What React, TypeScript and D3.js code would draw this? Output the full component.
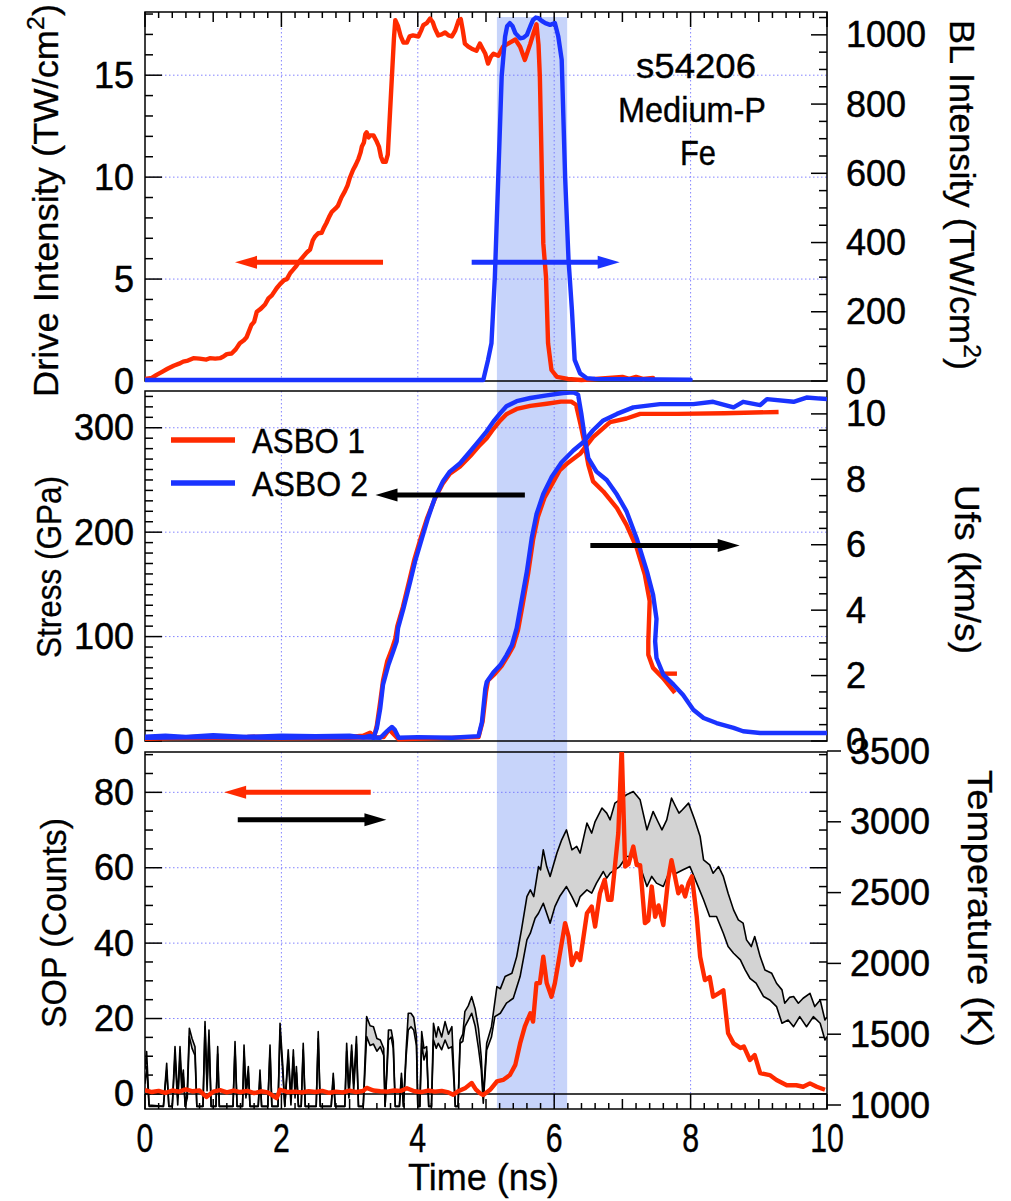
import React from "react";
import * as d3 from "d3";

type Pt = [number, number];

// ------------------------------------------------------------------ DATA
const timeTicks = [0, 2, 4, 6, 8, 10];
const driveTicks = [0, 5, 10, 15];
const blTicks = [0, 200, 400, 600, 800, 1000];
const stressTicks = [0, 100, 200, 300];
const ufsTicks = [0, 2, 4, 6, 8, 10];
const sopTicks = [0, 20, 40, 60, 80];
const tempTicks = [1000, 1500, 2000, 2500, 3000, 3500];

const shotLabel = ["s54206", "Medium-P", "Fe"];
const legendLabels = ["ASBO 1", "ASBO 2"];
const blWindow = [5.16, 6.19]; // ns, backlighter window

// drive laser intensity (TW/cm^2)
const driveIntensity: Pt[] = [
  [0, 0.1], [0.1, 0.15], [0.17, 0.3], [0.25, 0.45], [0.33, 0.6], [0.42, 0.75], [0.5, 0.85], [0.56, 0.95],
  [0.63, 1.0], [0.71, 1.12], [0.8, 1.1], [0.9, 1.05], [0.95, 1.12], [1.03, 1.1], [1.1, 1.12], [1.15, 1.2],
  [1.2, 1.32], [1.27, 1.35], [1.33, 1.55], [1.39, 1.85], [1.45, 2.0], [1.49, 2.15], [1.56, 2.75], [1.6, 2.9],
  [1.64, 3.4], [1.7, 3.55], [1.76, 3.75], [1.81, 4.05], [1.86, 4.2], [1.93, 4.55], [1.98, 4.75], [2.04, 4.95],
  [2.08, 5.0], [2.13, 5.3], [2.17, 5.45], [2.22, 5.65], [2.27, 5.9], [2.32, 6.1], [2.37, 6.3], [2.42, 6.45],
  [2.46, 6.9], [2.49, 7.07], [2.54, 7.25], [2.59, 7.27], [2.62, 7.5], [2.66, 7.75], [2.7, 8.05], [2.74, 8.3],
  [2.79, 8.45], [2.83, 8.6], [2.88, 9.0], [2.93, 9.3], [2.97, 9.6], [3.0, 9.93], [3.05, 10.35], [3.09, 10.6],
  [3.13, 10.9], [3.16, 11.2], [3.18, 11.5], [3.21, 11.7], [3.23, 12.1], [3.25, 12.2], [3.28, 11.95], [3.3, 12.05],
  [3.35, 12.05], [3.39, 11.8], [3.43, 11.5], [3.46, 11.0], [3.49, 10.75], [3.53, 10.75], [3.56, 11.1], [3.59, 13.0],
  [3.62, 14.9], [3.65, 16.8], [3.67, 17.7], [3.71, 17.4], [3.75, 16.9], [3.79, 16.6], [3.84, 16.6], [3.88, 16.9],
  [3.93, 16.95], [4.01, 16.9], [4.05, 17.2], [4.08, 17.45], [4.13, 17.55], [4.18, 17.78], [4.22, 17.6], [4.25, 17.3],
  [4.3, 16.95], [4.35, 17.0], [4.4, 17.1], [4.45, 16.95], [4.5, 16.9], [4.55, 17.2], [4.6, 17.7], [4.63, 17.75],
  [4.66, 17.2], [4.69, 16.55], [4.74, 16.4], [4.79, 16.3], [4.86, 16.2], [4.91, 16.55], [4.95, 16.3], [4.99, 16.05],
  [5.03, 15.57], [5.07, 15.9], [5.11, 16.05], [5.18, 15.95], [5.25, 16.4], [5.35, 16.6], [5.43, 16.75], [5.5, 16.4],
  [5.57, 15.75], [5.65, 16.55], [5.7, 17.1], [5.74, 17.5], [5.77, 16.5], [5.79, 14.9], [5.82, 10.0], [5.84, 6.75],
  [5.88, 5.1], [5.91, 1.85], [5.96, 0.54], [6.04, 0.2], [6.2, 0.1], [6.4, 0.05], [6.6, 0.1], [6.8, 0.15],
  [7.0, 0.2], [7.1, 0.1], [7.2, 0.2], [7.3, 0.1], [7.45, 0.15],
];

// backlighter intensity (TW/cm^2)
const blIntensity: Pt[] = [
  [0, 3], [4.96, 3], [5.03, 61], [5.08, 109], [5.13, 301], [5.18, 590], [5.23, 880], [5.28, 995],
  [5.31, 1025], [5.35, 1034], [5.39, 1025], [5.43, 1005], [5.5, 990], [5.55, 992], [5.6, 1000], [5.65, 1025],
  [5.69, 1043], [5.73, 1050], [5.77, 1048], [5.82, 1040], [5.87, 1034], [5.94, 1029], [6.01, 1034], [6.06, 995],
  [6.11, 928], [6.16, 590], [6.21, 350], [6.26, 205], [6.3, 61], [6.38, 22], [6.48, 8], [6.6, 6], [8.0, 4],
];

// stress (GPa)
const stressAsbo2: Pt[] = [
  [0, 4], [0.3, 5], [0.6, 4], [1.0, 5.5], [1.5, 4], [2.0, 5], [2.5, 4.5], [3.0, 5], [3.2, 3.5], [3.3, 5],
  [3.35, 3], [3.4, 12.5], [3.45, 31.6], [3.49, 54], [3.57, 73], [3.64, 86], [3.69, 95.5], [3.71, 108],
  [3.79, 127], [3.89, 153], [3.96, 172], [4.06, 194], [4.15, 213.6], [4.25, 232.8], [4.37, 248.7], [4.47, 258],
  [4.62, 266], [4.77, 277.5], [4.89, 287], [5.01, 296.6], [5.11, 306], [5.21, 314], [5.3, 320.6], [5.45, 325.4],
  [5.65, 328.5], [5.89, 331], [6.13, 333.3], [6.28, 334], [6.35, 331.7], [6.4, 312.5], [6.45, 290], [6.5, 271],
  [6.62, 258], [6.77, 250], [6.92, 236], [7.06, 220], [7.21, 194], [7.36, 162.5], [7.45, 140], [7.5, 117],
  [7.48, 95.5], [7.5, 79.5], [7.6, 63.5], [7.75, 54], [7.89, 44], [8.04, 30], [8.19, 22], [8.38, 17.2],
  [8.63, 12.5], [8.77, 9.3], [9.02, 7.7], [9.5, 7.7], [10, 7.7],
];
const stressAsbo1: Pt[] = [
  [0, 2], [0.4, 3], [0.8, 4], [1.2, 3], [1.6, 4], [2.0, 3.5], [2.4, 4], [2.8, 3], [3.2, 5], [3.3, 8],
  [3.36, 4], [3.4, 15], [3.45, 38], [3.49, 58], [3.55, 76], [3.62, 88], [3.67, 98], [3.7, 110], [3.78, 128],
  [3.88, 155], [3.95, 174], [4.05, 196], [4.14, 214], [4.25, 232], [4.37, 247], [4.47, 256], [4.62, 263],
  [4.77, 273], [4.89, 282], [5.01, 290], [5.11, 299], [5.21, 307], [5.3, 313], [5.45, 318], [5.65, 321],
  [5.89, 323], [6.1, 325], [6.25, 325], [6.32, 322], [6.38, 305], [6.43, 290], [6.5, 264.7], [6.57, 248.7],
  [6.72, 239], [6.92, 223], [7.06, 207], [7.21, 185], [7.33, 159], [7.4, 134], [7.38, 95.5], [7.38, 82.7],
  [7.45, 70], [7.6, 60], [7.77, 46],
];
const stressAsbo1Tail: Pt[] = [[7.6, 64.5], [7.8, 64.5]];

// free-surface velocity (km/s)
const ufsAsbo2: Pt[] = [
  [0, 0.1], [1, 0.12], [2, 0.1], [3, 0.12], [3.45, 0.1], [3.55, 0.3], [3.62, 0.43], [3.66, 0.35], [3.72, 0.1],
  [4.0, 0.12], [4.5, 0.1], [4.89, 0.15], [4.94, 0.57], [4.99, 1.6], [5.01, 1.8], [5.11, 2.1], [5.21, 2.32],
  [5.3, 2.62], [5.38, 2.93], [5.45, 3.45], [5.52, 4.27], [5.6, 5.19], [5.67, 6.2], [5.74, 6.93], [5.84, 7.55],
  [5.96, 8.06], [6.11, 8.52], [6.28, 8.88], [6.43, 9.14], [6.57, 9.5], [6.72, 9.8], [6.92, 10.0], [7.16, 10.2],
  [7.55, 10.3], [8.04, 10.3], [8.33, 10.37], [8.63, 10.2], [8.77, 10.37], [9.02, 10.27], [9.12, 10.45],
  [9.51, 10.37], [9.7, 10.5], [10, 10.45],
];
const ufsAsbo1: Pt[] = [
  [0, 0.08], [1, 0.1], [2, 0.08], [3, 0.1], [3.5, 0.12], [3.58, 0.35], [3.65, 0.2], [3.72, 0.05], [4.2, 0.08],
  [4.89, 0.12], [4.95, 0.6], [5.0, 1.5], [5.03, 1.85], [5.13, 2.05], [5.23, 2.3], [5.32, 2.6], [5.4, 2.9],
  [5.47, 3.4], [5.54, 4.2], [5.62, 5.15], [5.69, 6.15], [5.76, 6.85], [5.86, 7.45], [5.98, 7.9], [6.08, 8.27],
  [6.2, 8.5], [6.38, 8.78], [6.57, 9.29], [6.82, 9.75], [7.06, 9.86], [7.26, 10.0], [7.8, 10.0], [8.5, 10.02],
  [9.29, 10.06],
];

// streaked optical pyrometer (counts)
const sopCounts: Pt[] = [
  [0, 1.0], [0.1, 0.5], [0.2, 0.8], [0.3, 0.3], [0.4, 0.9], [0.5, 0.6], [0.6, 1.2], [0.7, 0.7], [0.8, 0.9],
  [0.9, -0.8], [1.0, 0.6], [1.1, 1.0], [1.2, 0.4], [1.3, 0.9], [1.4, 0.5], [1.5, 0.8], [1.6, 0.2], [1.7, 0.7],
  [1.8, 0.4], [1.93, -1.1], [1.98, 1.1], [2.1, 0.5], [2.2, 0.6], [2.3, 0.4], [2.4, 0.7], [2.5, 0.5], [2.6, 0.8],
  [2.7, 0.3], [2.8, 0.6], [2.9, 0.4], [3.0, 0.9], [3.1, 0.5], [3.2, 0.8], [3.25, 1.6], [3.35, 0.9], [3.45, 0.7],
  [3.55, 0.6], [3.65, 0.9], [3.75, 0.8], [3.84, 1.5], [3.95, 0.7], [4.05, 0.5], [4.15, 0.9], [4.25, 0.6],
  [4.35, 0.8], [4.45, 0.4], [4.52, -0.2], [4.6, 0.8], [4.7, 1.6], [4.79, 2.9], [4.85, 1.2], [4.91, 0.2],
  [4.96, -0.3], [5.06, 1.1], [5.16, 3.3], [5.25, 3.7], [5.35, 5.0], [5.43, 7.7], [5.5, 13.4], [5.57, 17.9],
  [5.65, 21.4], [5.69, 19.2], [5.74, 29.4], [5.79, 29.4], [5.84, 36.4], [5.89, 29.4], [5.96, 25.8], [6.01, 29.4],
  [6.06, 34.7], [6.16, 45.3], [6.21, 41.8], [6.26, 34.2], [6.33, 37.3], [6.38, 35.5], [6.48, 47.9], [6.55, 49.7],
  [6.6, 44.4], [6.67, 53.2], [6.74, 56.8], [6.79, 51.5], [6.84, 51.5], [6.89, 60.3], [6.94, 69.2], [6.99, 92],
  [7.04, 60.3], [7.09, 61], [7.16, 65.6], [7.21, 60.7], [7.26, 60.7], [7.33, 45.3], [7.38, 46], [7.43, 55],
  [7.48, 47], [7.53, 50], [7.6, 44.8], [7.67, 56.8], [7.72, 62], [7.77, 57.7], [7.82, 53.2], [7.87, 55],
  [7.92, 52.4], [7.97, 55.9], [8.02, 57.7], [8.09, 47], [8.14, 36.4], [8.21, 30.2], [8.28, 31], [8.33, 25.8],
  [8.41, 26.7], [8.48, 27.5], [8.55, 16.1], [8.63, 13.4], [8.73, 12.2], [8.78, 12.6], [8.87, 9.0], [8.94, 10.3],
  [9.02, 5.5], [9.16, 5.0], [9.26, 3.7], [9.41, 2.3], [9.55, 2.3], [9.65, 1.9], [9.75, 2.8], [9.85, 1.9],
  [9.97, 1.1],
];

// temperature band (K): upper and lower bounds
const tempUpper: Pt[] = [
  [0.0, 1250], [0.024, 1377], [0.06, 1000], [0.27, 990], [0.318, 1295], [0.35, 990], [0.4, 990], [0.44, 1412],
  [0.48, 1050], [0.513, 1412], [0.54, 1150], [0.562, 1247], [0.59, 990], [0.62, 1100], [0.65, 1542], [0.69, 1470],
  [0.733, 1412], [0.76, 990], [0.85, 990], [0.88, 1589], [0.91, 1150], [0.938, 1530], [0.97, 990], [1.04, 990],
  [1.066, 1412], [1.09, 990], [1.29, 990], [1.32, 1448], [1.35, 990], [1.43, 990], [1.452, 1424], [1.48, 1100],
  [1.515, 1271], [1.54, 990], [1.66, 990], [1.686, 1247], [1.71, 990], [1.8, 990], [1.833, 1424], [1.86, 990],
  [1.95, 990], [1.98, 1577], [2.02, 1280], [2.05, 990], [2.1, 1389], [2.14, 1050], [2.175, 1389], [2.2, 1100],
  [2.22, 1271], [2.25, 990], [2.29, 990], [2.32, 1436], [2.35, 990], [2.51, 990], [2.54, 1518], [2.57, 990],
  [2.73, 990], [2.76, 1224], [2.79, 990], [2.93, 990], [2.957, 1436], [2.99, 1100], [3.03, 1424], [3.06, 1150],
  [3.1, 1483], [3.13, 990], [3.2, 990], [3.25, 1624], [3.3, 1560], [3.35, 1553], [3.4, 1470], [3.45, 1459],
  [3.5, 1400], [3.52, 990], [3.55, 1300], [3.57, 1530], [3.61, 1530], [3.64, 1450], [3.67, 990], [3.73, 990],
  [3.76, 1224], [3.79, 990], [3.83, 1400], [3.86, 1648], [3.9, 1648], [3.94, 1620], [3.98, 1483], [4.0, 990],
  [4.03, 990], [4.057, 1518], [4.09, 1400], [4.13, 1412], [4.16, 990], [4.2, 990], [4.23, 1577], [4.27, 1480],
  [4.3, 1553], [4.35, 1480], [4.4, 1589], [4.45, 1500], [4.5, 1553], [4.55, 990], [4.59, 990], [4.62, 1459],
  [4.66, 1500], [4.69, 1659], [4.74, 1700], [4.79, 1765], [4.84, 1680], [4.89, 1540], [4.93, 1341], [4.96, 1057],
  [5.01, 1436], [5.08, 1553], [5.16, 1836], [5.21, 1820], [5.28, 1907], [5.38, 1930], [5.45, 2048], [5.52, 2237],
  [5.6, 2472], [5.65, 2519], [5.7, 2472], [5.77, 2684], [5.8, 2660], [5.84, 2802], [5.89, 2684], [5.94, 2614],
  [6.04, 2779], [6.11, 2873], [6.18, 2943], [6.26, 2802], [6.33, 2826], [6.38, 2779], [6.48, 2991], [6.55, 2920],
  [6.6, 3002], [6.7, 3097], [6.77, 3061], [6.82, 3014], [6.89, 3132], [6.96, 3155], [7.06, 3191], [7.16, 3214],
  [7.26, 3155], [7.36, 2943], [7.45, 3073], [7.52, 3002], [7.58, 2943], [7.65, 3014], [7.72, 3167], [7.78, 3108],
  [7.83, 3061], [7.88, 3085], [7.97, 3132], [8.06, 3014], [8.14, 2896], [8.19, 2731], [8.28, 2696], [8.33, 2637],
  [8.41, 2684], [8.48, 2614], [8.55, 2496], [8.63, 2378], [8.7, 2307], [8.77, 2284], [8.82, 2166], [8.89, 2119],
  [8.94, 2190], [9.02, 2048], [9.09, 1954], [9.19, 1930], [9.26, 1860], [9.34, 1813], [9.38, 1719], [9.45, 1760],
  [9.51, 1766], [9.58, 1719], [9.65, 1754], [9.75, 1789], [9.82, 1695], [9.9, 1742], [9.97, 1600], [10.0, 1620],
];
const tempLower: Pt[] = [
  [0.0, 1150], [0.024, 1271], [0.06, 990], [0.27, 990], [0.318, 1247], [0.35, 990], [0.4, 990], [0.44, 1350],
  [0.48, 1000], [0.513, 1350], [0.54, 1100], [0.562, 1200], [0.59, 990], [0.62, 1050], [0.65, 1483], [0.69, 1400],
  [0.733, 1350], [0.76, 990], [0.85, 990], [0.88, 1553], [0.91, 1100], [0.938, 1480], [0.97, 990], [1.04, 990],
  [1.066, 1360], [1.09, 990], [1.29, 990], [1.32, 1400], [1.35, 990], [1.43, 990], [1.452, 1380], [1.48, 1050],
  [1.515, 1230], [1.54, 990], [1.66, 990], [1.686, 1200], [1.71, 990], [1.8, 990], [1.833, 1380], [1.86, 990],
  [1.95, 990], [1.98, 1530], [2.02, 1230], [2.05, 990], [2.1, 1340], [2.14, 1000], [2.175, 1340], [2.2, 1050],
  [2.22, 1230], [2.25, 990], [2.29, 990], [2.32, 1390], [2.35, 990], [2.51, 990], [2.54, 1470], [2.57, 990],
  [2.73, 990], [2.76, 1190], [2.79, 990], [2.93, 990], [2.957, 1380], [2.99, 1050], [3.03, 1380], [3.06, 1100],
  [3.1, 1430], [3.13, 990], [3.2, 990], [3.25, 1483], [3.3, 1420], [3.35, 1430], [3.4, 1380], [3.45, 1412],
  [3.5, 1350], [3.52, 990], [3.55, 1250], [3.57, 1459], [3.61, 1480], [3.64, 1400], [3.67, 990], [3.73, 990],
  [3.76, 1190], [3.79, 990], [3.83, 1350], [3.86, 1530], [3.9, 1553], [3.94, 1530], [3.98, 1420], [4.0, 990],
  [4.03, 990], [4.057, 1436], [4.09, 1318], [4.13, 1380], [4.16, 990], [4.2, 990], [4.23, 1459], [4.27, 1400],
  [4.3, 1436], [4.35, 1390], [4.4, 1459], [4.45, 1400], [4.5, 1412], [4.55, 990], [4.59, 990], [4.62, 1436],
  [4.66, 1450], [4.69, 1553], [4.74, 1600], [4.79, 1648], [4.84, 1560], [4.89, 1400], [4.93, 1250], [4.96, 1012],
  [5.01, 1389], [5.08, 1480], [5.13, 1624], [5.21, 1648], [5.3, 1719], [5.4, 1754], [5.5, 1907], [5.6, 2166],
  [5.65, 2213], [5.72, 2319], [5.77, 2354], [5.84, 2425], [5.94, 2284], [6.01, 2401], [6.08, 2472], [6.18, 2543],
  [6.26, 2472], [6.33, 2401], [6.38, 2472], [6.48, 2519], [6.55, 2496], [6.62, 2567], [6.72, 2649], [6.77, 2602],
  [6.82, 2637], [6.96, 2684], [7.06, 2755], [7.16, 2755], [7.26, 2684], [7.36, 2543], [7.43, 2614], [7.5, 2567],
  [7.6, 2543], [7.7, 2661], [7.79, 2637], [7.89, 2661], [7.99, 2684], [8.09, 2567], [8.19, 2449], [8.28, 2331],
  [8.38, 2331], [8.48, 2213], [8.55, 2119], [8.63, 2072], [8.73, 2025], [8.8, 1954], [8.87, 1895], [8.96, 1860],
  [9.07, 1766], [9.16, 1742], [9.26, 1695], [9.34, 1577], [9.43, 1600], [9.51, 1553], [9.6, 1624], [9.7, 1553],
  [9.8, 1624], [9.9, 1577], [9.97, 1459], [10.0, 1483],
];

// axis-indicator arrows: [tail, tip] in data units
const driveArrow: Pt[] = [[3.49, 5.82], [1.32, 5.82]];
const blArrow: Pt[] = [[4.79, 343], [6.96, 343]];
const stressArrow: Pt[] = [[5.57, 235.6], [3.38, 235.6]];
const ufsArrow: Pt[] = [[6.53, 5.98], [8.72, 5.98]];
const sopArrow: Pt[] = [[3.31, 80], [1.16, 80]];
const tempArrow: Pt[] = [[1.36, 3014], [3.54, 3014]];

// ------------------------------------------------------------------ LAYOUT
const W = 1011;
const H = 1201;
const XL = 145;
const XR = 827;
const TOP = { t: 12, b: 381 };
const MID = { t: 391, b: 741 };
const BOT = { t: 752, b: 1109 };
const FONT = "'Liberation Sans', Arial, Helvetica, sans-serif";
const RED = "#ff2a00";
const BLUE = "#1a33ff";
const BAND = "#c7d4fa";
const GRID = "#6f6fff";
const LW = 4.4;

const x = d3.scaleLinear().domain([0, 10]).range([XL, XR]);
const yDrive = d3.scaleLinear().domain([0, 18.1]).range([TOP.b, TOP.t]);
const yBL = d3.scaleLinear().domain([0, 1066]).range([TOP.b, TOP.t]);
const yStress = d3.scaleLinear().domain([0, 335.2]).range([MID.b, MID.t]);
const yUfs = d3.scaleLinear().domain([0, 10.7]).range([MID.b, MID.t]);
const ySOP = d3.scaleLinear().domain([-4, 90.7]).range([BOT.b, BOT.t]);
const yT = d3.scaleLinear().domain([1000, 3500]).range([1105, 751]);

const mkLine = (ys: d3.ScaleLinear<number, number>) =>
  d3.line<Pt>().x((d) => x(d[0])).y((d) => ys(d[1]));

const isMult = (v: number, s: number) => Math.abs(v / s - Math.round(v / s)) < 1e-6;

function YTicks({ scale, lo, hi, step, major, side, lenMin, lenMaj, outward = false }: any) {
  const vals = d3.range(lo, hi + 1e-9, step);
  return (
    <g stroke="#000" strokeWidth={1.5}>
      {vals.map((v: number, i: number) => {
        const y = scale(v);
        const len = isMult(v, major) ? lenMaj : lenMin;
        const x0 = side === "left" ? XL : XR;
        const dir = (side === "left" ? 1 : -1) * (outward ? -1 : 1);
        return <line key={i} x1={x0} x2={x0 + dir * len} y1={y} y2={y} />;
      })}
    </g>
  );
}

function XTicks({ y0, dir }: { y0: number; dir: number }) {
  const vals = d3.range(0, 10 + 1e-9, 0.2);
  return (
    <g stroke="#000" strokeWidth={1.5}>
      {vals.map((v, i) => {
        const len = isMult(v, 2) ? 15 : isMult(v, 1) ? 10 : 6;
        return <line key={i} x1={x(v)} x2={x(v)} y1={y0} y2={y0 + dir * len} />;
      })}
    </g>
  );
}

function Grid({ top, bottom, yScale, yVals }: any) {
  return (
    <g stroke={GRID} strokeWidth={1} strokeDasharray="1.5,2.5" opacity={0.85}>
      {[2, 4, 6, 8].map((t) => (
        <line key={"v" + t} x1={x(t)} x2={x(t)} y1={top} y2={bottom} />
      ))}
      {yVals.map((v: number) => (
        <line key={"h" + v} x1={XL} x2={XR} y1={yScale(v)} y2={yScale(v)} />
      ))}
    </g>
  );
}

function Arrow({ pts, ys, color }: { pts: Pt[]; ys: any; color: string }) {
  const x1 = x(pts[0][0]);
  const x2 = x(pts[1][0]);
  const y = ys(pts[0][1]);
  const dir = Math.sign(x2 - x1);
  const hl = 22;
  const hw = 6.5;
  const bx = x2 - dir * hl;
  return (
    <g>
      <line x1={x1} x2={bx + dir * 2} y1={y} y2={y} stroke={color} strokeWidth={5} />
      <polygon points={`${x2},${y} ${bx},${y - hw} ${bx},${y + hw}`} fill={color} />
    </g>
  );
}

function LeftTitle({ xb, yStart, len, children }: any) {
  return (
    <text
      transform={`translate(${xb},${yStart}) rotate(-90)`}
      fontFamily={FONT}
      fontSize={35}
      textLength={len}
      lengthAdjust="spacingAndGlyphs"
    >
      {children}
    </text>
  );
}

function RightTitle({ xb, yStart, len, children }: any) {
  return (
    <text
      transform={`translate(${xb},${yStart}) rotate(90)`}
      fontFamily={FONT}
      fontSize={35}
      textLength={len}
      lengthAdjust="spacingAndGlyphs"
    >
      {children}
    </text>
  );
}

export default function App() {
  const lDrive = mkLine(yDrive);
  const lBL = mkLine(yBL);
  const lStress = mkLine(yStress);
  const lUfs = mkLine(yUfs);
  const lSOP = mkLine(ySOP);
  const lT = mkLine(yT);
  const bandPoly = [...tempUpper, ...tempLower.slice().reverse()];

  const tickLabel = { fontFamily: FONT, fontSize: 36, stroke: "#000", strokeWidth: 0.5 } as any;

  return (
    <svg
      width={W}
      height={H}
      viewBox={`0 0 ${W} ${H}`}
      style={{ position: "absolute", left: 0, top: 0, display: "block", background: "#fff" }}
    >
      <defs>
        <clipPath id="cTop">
          <rect x={XL} y={TOP.t} width={XR - XL} height={TOP.b - TOP.t + 2} />
        </clipPath>
        <clipPath id="cMid">
          <rect x={XL} y={MID.t} width={XR - XL} height={MID.b - MID.t + 1} />
        </clipPath>
        <clipPath id="cBot">
          <rect x={XL} y={BOT.t} width={XR - XL} height={BOT.b - BOT.t} />
        </clipPath>
      </defs>
      <rect x={0} y={0} width={W} height={H} fill="#fff" />

      {/* backlighter window band */}
      <rect x={x(blWindow[0])} y={17} width={x(blWindow[1]) - x(blWindow[0])} height={1108 - 17} fill={BAND} />

      {/* grids */}
      <Grid top={TOP.t} bottom={TOP.b} yScale={yDrive} yVals={[5, 10, 15]} />
      <Grid top={MID.t} bottom={MID.b} yScale={yStress} yVals={[100, 200, 300]} />
      <Grid top={BOT.t} bottom={BOT.b} yScale={ySOP} yVals={[20, 40, 60, 80]} />

      {/* frames */}
      <g fill="none" stroke="#000" strokeWidth={1.5}>
        <rect x={XL} y={TOP.t} width={XR - XL} height={TOP.b - TOP.t} />
        <rect x={XL} y={MID.t} width={XR - XL} height={MID.b - MID.t} />
        <rect x={XL} y={BOT.t} width={XR - XL} height={BOT.b - BOT.t} />
        <line x1={XL} x2={XR} y1={ySOP(0)} y2={ySOP(0)} />
      </g>

      {/* ticks */}
      <XTicks y0={TOP.t} dir={1} />
      <XTicks y0={BOT.b} dir={-1} />
      <YTicks scale={yDrive} lo={0} hi={18} step={1} major={5} side="left" lenMin={8} lenMaj={17} />
      <YTicks scale={yBL} lo={0} hi={1050} step={50} major={200} side="right" lenMin={8} lenMaj={16} />
      <YTicks scale={yStress} lo={0} hi={330} step={10} major={100} side="left" lenMin={8} lenMaj={17} />
      <YTicks scale={yUfs} lo={0} hi={10.5} step={0.5} major={2} side="right" lenMin={8} lenMaj={16} />
      <YTicks scale={ySOP} lo={0} hi={90} step={5} major={20} side="left" lenMin={8} lenMaj={17} />
      <YTicks scale={ySOP} lo={0} hi={90} step={5} major={20} side="right" lenMin={8} lenMaj={17} />
      <YTicks scale={yT} lo={1000} hi={3500} step={500} major={500} side="right" lenMin={14} lenMaj={14} outward />

      {/* top panel data */}
      <g clipPath="url(#cTop)" fill="none" strokeWidth={LW} strokeLinejoin="round" strokeLinecap="round">
        <path d={lDrive(driveIntensity) || ""} stroke={RED} />
        <path d={lBL(blIntensity) || ""} stroke={BLUE} />
      </g>

      {/* middle panel data */}
      <g clipPath="url(#cMid)" fill="none" strokeWidth={LW} strokeLinejoin="round">
        <path d={lStress(stressAsbo1) || ""} stroke={RED} />
        <path d={lStress(stressAsbo1Tail) || ""} stroke={RED} />
        <path d={lUfs(ufsAsbo1) || ""} stroke={RED} />
        <path d={lStress(stressAsbo2) || ""} stroke={BLUE} />
        <path d={lUfs(ufsAsbo2) || ""} stroke={BLUE} />
      </g>

      {/* bottom panel data */}
      <g clipPath="url(#cBot)">
        <path d={(lT(bandPoly) || "") + "Z"} fill="#d3d3d3" stroke="none" />
        <path d={lT(tempUpper) || ""} fill="none" stroke="#000" strokeWidth={1.6} strokeLinejoin="round" />
        <path d={lT(tempLower) || ""} fill="none" stroke="#000" strokeWidth={1.6} strokeLinejoin="round" />
        <path d={lSOP(sopCounts) || ""} fill="none" stroke={RED} strokeWidth={LW} strokeLinejoin="round" />
      </g>

      {/* arrows */}
      <Arrow pts={driveArrow} ys={yDrive} color={RED} />
      <Arrow pts={blArrow} ys={yBL} color={BLUE} />
      <Arrow pts={stressArrow} ys={yStress} color="#000" />
      <Arrow pts={ufsArrow} ys={yUfs} color="#000" />
      <Arrow pts={sopArrow} ys={ySOP} color={RED} />
      <Arrow pts={tempArrow} ys={yT} color="#000" />

      {/* shot annotation */}
      <g fontFamily={FONT} fontSize={35} textAnchor="middle" stroke="#000" strokeWidth={0.4}>
        <text x={696} y={78} textLength={120} lengthAdjust="spacingAndGlyphs">{shotLabel[0]}</text>
        <text x={692} y={122} textLength={148} lengthAdjust="spacingAndGlyphs">{shotLabel[1]}</text>
        <text x={698} y={165} textLength={36} lengthAdjust="spacingAndGlyphs">{shotLabel[2]}</text>
      </g>

      {/* legend */}
      <g>
        <line x1={171} x2={235} y1={440} y2={440} stroke={RED} strokeWidth={5.5} />
        <line x1={171} x2={235} y1={483} y2={483} stroke={BLUE} strokeWidth={5.5} />
        <text x={252} y={453} fontFamily={FONT} fontSize={35} textLength={113} lengthAdjust="spacingAndGlyphs" stroke="#000" strokeWidth={0.4}>
          {legendLabels[0]}
        </text>
        <text x={252} y={496} fontFamily={FONT} fontSize={35} textLength={116} lengthAdjust="spacingAndGlyphs" stroke="#000" strokeWidth={0.4}>
          {legendLabels[1]}
        </text>
      </g>

      {/* left tick labels */}
      <g {...tickLabel} textAnchor="end" dominantBaseline="central">
        {driveTicks.map((v) => (
          <text key={"d" + v} x={134} y={yDrive(v)}>{v}</text>
        ))}
        {stressTicks.map((v) => (
          <text key={"s" + v} x={134} y={yStress(v)}>{v}</text>
        ))}
        {sopTicks.map((v) => (
          <text key={"p" + v} x={134} y={ySOP(v)}>{v}</text>
        ))}
      </g>

      {/* right tick labels */}
      <g {...tickLabel} textAnchor="start" dominantBaseline="central">
        {blTicks.map((v) => (
          <text key={"b" + v} x={846} y={yBL(v)}>{v}</text>
        ))}
        {ufsTicks.map((v) => (
          <text key={"u" + v} x={846} y={yUfs(v)}>{v}</text>
        ))}
        {tempTicks.map((v) => (
          <text key={"t" + v} x={850} y={yT(v)}>{v}</text>
        ))}
      </g>

      {/* bottom tick labels */}
      <g fontFamily={FONT} fontSize={41} textAnchor="middle" stroke="#000" strokeWidth={0.4}>
        {timeTicks.map((v) => (
          <text key={"x" + v} transform={`translate(${x(v)},1152) scale(0.74,1)`}>{v}</text>
        ))}
      </g>
      <text x={408} y={1190} fontFamily={FONT} fontSize={37} textLength={151} lengthAdjust="spacingAndGlyphs" stroke="#000" strokeWidth={0.3}>
        Time (ns)
      </text>

      {/* axis titles */}
      <g stroke="#000" strokeWidth={0.3}>
        <LeftTitle xb={58} yStart={397} len={393}>
          Drive Intensity (TW/cm
          <tspan dy={-14} fontSize={24}>2</tspan>
          <tspan dy={14}>)</tspan>
        </LeftTitle>
        <LeftTitle xb={61} yStart={658} len={182}>
          Stress (GPa)
        </LeftTitle>
        <LeftTitle xb={66} yStart={1028} len={210}>
          SOP (Counts)
        </LeftTitle>
        <RightTitle xb={950} yStart={20} len={350}>
          BL Intensity (TW/cm
          <tspan dy={-14} fontSize={24}>2</tspan>
          <tspan dy={14}>)</tspan>
        </RightTitle>
        <RightTitle xb={955} yStart={485} len={169}>
          Ufs (km/s)
        </RightTitle>
        <RightTitle xb={968} yStart={770} len={277}>
          Temperature (K)
        </RightTitle>
      </g>
    </svg>
  );
}
